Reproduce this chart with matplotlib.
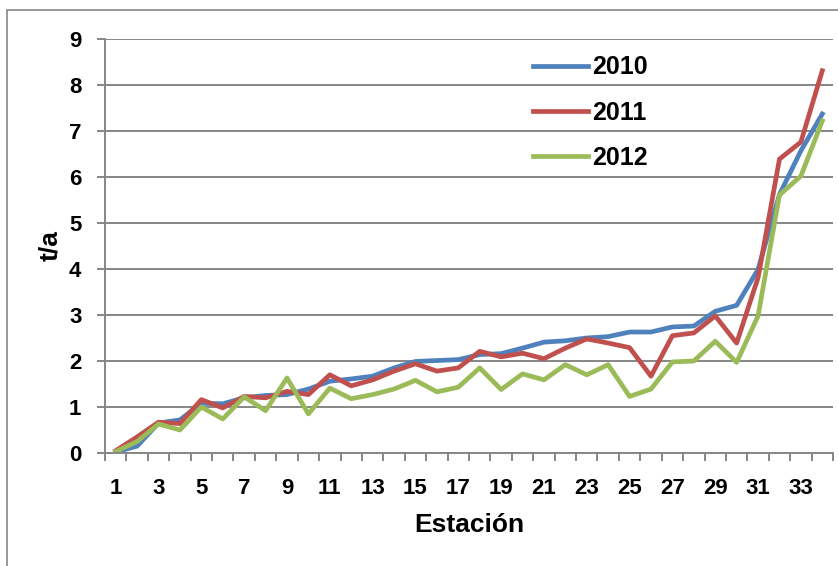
import matplotlib
matplotlib.use("Agg")
import matplotlib.pyplot as plt
from matplotlib.patches import Rectangle

plt.rcParams["font.family"] = ["Liberation Sans", "DejaVu Sans"]
plt.rcParams["font.weight"] = "bold"

# t/a per station
stations = list(range(1, 35))
t_2010 = [0.02, 0.15, 0.65, 0.72, 1.08, 1.07, 1.20, 1.25, 1.27, 1.39, 1.56, 1.61,
          1.67, 1.85, 1.99, 2.01, 2.03, 2.14, 2.16, 2.28, 2.41, 2.44, 2.50, 2.53,
          2.63, 2.63, 2.74, 2.76, 3.08, 3.21, 3.99, 5.62, 6.57, 7.37]
t_2011 = [0.05, 0.35, 0.67, 0.64, 1.16, 0.98, 1.23, 1.20, 1.34, 1.27, 1.70, 1.46,
          1.59, 1.78, 1.94, 1.78, 1.85, 2.21, 2.09, 2.17, 2.05, 2.28, 2.48, 2.39,
          2.29, 1.67, 2.55, 2.61, 2.98, 2.39, 3.81, 6.39, 6.76, 8.31]
t_2012 = [0.03, 0.25, 0.63, 0.50, 1.00, 0.74, 1.22, 0.92, 1.63, 0.85, 1.41, 1.18,
          1.27, 1.39, 1.58, 1.33, 1.43, 1.85, 1.38, 1.72, 1.59, 1.92, 1.70, 1.92,
          1.23, 1.39, 1.98, 2.00, 2.43, 1.97, 2.98, 5.61, 6.02, 7.22]
series = [("2010", t_2010, "#4F81BD"),
          ("2011", t_2011, "#C0504D"),
          ("2012", t_2012, "#9BBB59")]

W, H = 838, 566
fig = plt.figure(figsize=(W / 100, H / 100), dpi=100)
# outer chart frame, runs off the right and bottom edges
fig.patches.append(Rectangle((7 / W, -0.1), 1.2, 1 - 10 / H + 0.1,
                             transform=fig.transFigure, fill=False,
                             edgecolor="#868686", lw=1.2))

ax = fig.add_axes([105 / W, 1 - 453 / H, (833 - 105) / W, (453 - 39) / H])
grey = "#868686"

for name, vals, col in series:
    ax.plot(stations, vals, color=col, lw=3.4, label=name)

ax.set_xlim(0.5, 34.5)
ax.set_ylim(0, 9)
ax.set_yticks(range(0, 10))
ax.yaxis.grid(True, color=grey, lw=1.4)
ax.set_axisbelow(True)

ax.set_xticks(stations[::2])
ax.set_xticks([s + 0.5 for s in range(0, 35)], minor=True)
ax.tick_params(axis="x", which="major", length=0, pad=18, labelsize=16)
ax.tick_params(axis="x", which="minor", length=6, color=grey, width=1.4)
ax.tick_params(axis="y", length=6, color=grey, width=1.4, pad=11, labelsize=16)

for s in ["top", "right"]:
    ax.spines[s].set_visible(False)
for s in ["left", "bottom"]:
    ax.spines[s].set_color(grey)
    ax.spines[s].set_linewidth(1.4)

ax.set_xlabel("Estación", fontsize=19, fontweight="bold", labelpad=10)
ax.set_ylabel("t/a", fontsize=19, fontweight="bold", labelpad=5)

ax.legend(loc="upper left", bbox_to_anchor=(510 / W, 1 - 33 / H),
          bbox_transform=fig.transFigure, frameon=False,
          handlelength=2.2, labelspacing=0.85, handletextpad=0.2,
          prop={"weight": "bold", "size": 18})

fig.savefig("out.png", dpi=100)
